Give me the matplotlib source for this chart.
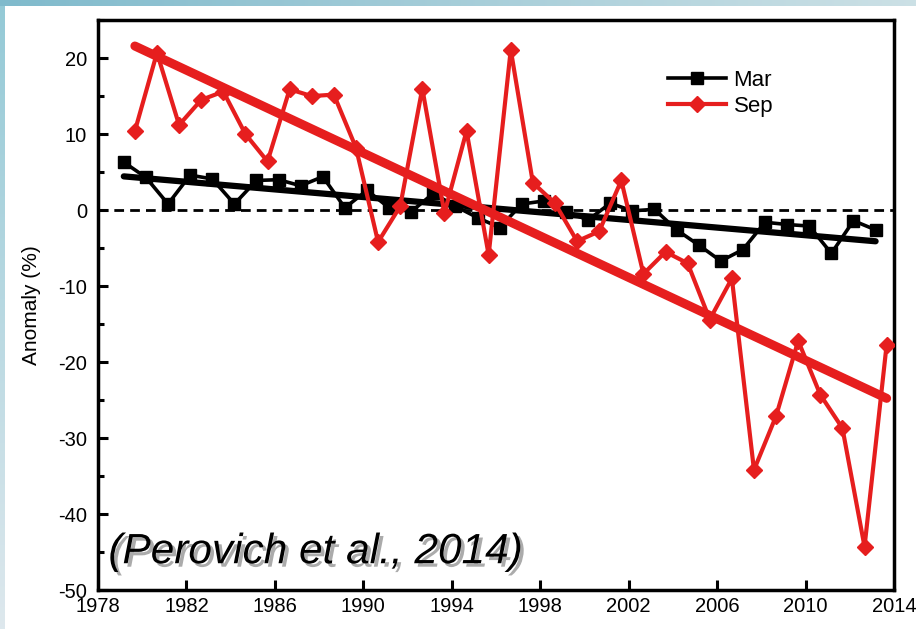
import numpy as np
import matplotlib
matplotlib.use("Agg")
import matplotlib.pyplot as plt
import matplotlib.patheffects as pe
from matplotlib.ticker import MultipleLocator

plt.rcParams['font.family'] = ['Liberation Sans', 'DejaVu Sans']
plt.rcParams['axes.unicode_minus'] = False

# Sea ice extent anomalies (%) for March and September, 1979-2013
years = np.arange(1979, 2014)
mar = [6.3, 4.3, 0.8, 4.6, 4.1, 0.8, 3.9, 4.0, 3.2, 4.4,
       0.3, 2.6, 0.3, -0.2, 2.2, 0.5, -1.0, -2.3, 0.8, 1.2,
       -0.2, -1.3, 0.9, -0.1, 0.1, -2.6, -4.6, -6.7, -5.2, -1.6,
       -1.9, -2.1, -5.7, -1.4, -2.6]
sep = [10.4, 20.7, 11.2, 14.5, 15.6, 10.0, 6.4, 15.9, 15.0, 15.2,
       8.2, -4.2, 0.5, 16.0, -0.4, 10.4, -5.9, 21.1, 3.6, 0.9,
       -4.1, -2.8, 3.9, -8.4, -5.5, -7.0, -14.4, -9.0, -34.2, -27.1,
       -17.2, -24.3, -28.7, -44.3, -17.7]

# plot each month at its position within the year
mar_x = years + 2 / 12
sep_x = years + 8 / 12

red = '#e61e1e'

fig = plt.figure(figsize=(9.16, 6.29), dpi=100, facecolor='white')

# light blue frame strip along the top and left edges
h, w = 629, 916
bg = np.ones((h, w, 3))
top_band = np.linspace([0.50, 0.73, 0.80], [0.80, 0.88, 0.90], w)
bg[:6, :, :] = top_band[None, :, :]
left_band = np.linspace([0.58, 0.79, 0.84], [0.87, 0.91, 0.93], h)
bg[6:, :5, :] = left_band[6:, None, :]
fig.figimage(bg, xo=0, yo=0, origin='upper', zorder=-10)

ax = fig.add_axes([0.107, 0.062, 0.869, 0.906])
ax.set_facecolor('white')

ax.axhline(0, color='black', lw=2.0, ls=(0, (3.5, 2.2)), zorder=1)

ax.plot(mar_x, mar, color='black', lw=2.6, marker='s', ms=8, label='Mar', zorder=3)
ax.plot(sep_x, sep, color=red, lw=3.0, marker='D', ms=8.5, label='Sep', zorder=4)

# linear trends
mar_fit = np.polyfit(mar_x, mar, 1)
sep_fit = np.polyfit(sep_x, sep, 1)
ax.plot(mar_x[[0, -1]], np.polyval(mar_fit, mar_x[[0, -1]]), color='black', lw=4.5,
        solid_capstyle='round', zorder=3)
ax.plot(sep_x[[0, -1]], np.polyval(sep_fit, sep_x[[0, -1]]), color=red, lw=6.5,
        solid_capstyle='round', zorder=5)

ax.set_xlim(1978, 2014)
ax.set_ylim(-50, 25)
ax.set_xticks(np.arange(1978, 2015, 4))
ax.yaxis.set_major_locator(MultipleLocator(10))
ax.yaxis.set_minor_locator(MultipleLocator(5))
ax.set_yticks(np.arange(-50, 21, 10))

ax.tick_params(axis='both', which='major', direction='in', length=7, width=2.2,
               labelsize=14.5, top=False, right=False)
ax.tick_params(axis='y', which='minor', direction='in', length=4.5, width=2.2,
               right=False)
ax.tick_params(axis='y', which='major', pad=8)
ax.tick_params(axis='x', which='major', pad=5)
for s in ax.spines.values():
    s.set_linewidth(2.5)

ax.set_ylabel('Anomaly (%)', fontsize=15, labelpad=12)

ax.legend(loc='upper left', bbox_to_anchor=(0.716, 0.912), frameon=False,
          fontsize=16, handlelength=2.6, handletextpad=0.35, labelspacing=0.2,
          borderpad=0, borderaxespad=0)

ax.text(0.013, 0.047, '(Perovich et al., 2014)', transform=ax.transAxes,
        fontsize=30.5, style='italic', va='baseline', ha='left', color='black',
        path_effects=[pe.SimplePatchShadow(offset=(2.5, -2.5), shadow_rgbFace='0.4', alpha=0.55),
                      pe.Normal()], zorder=6)

fig.savefig('out.png', dpi=100, facecolor='white')
